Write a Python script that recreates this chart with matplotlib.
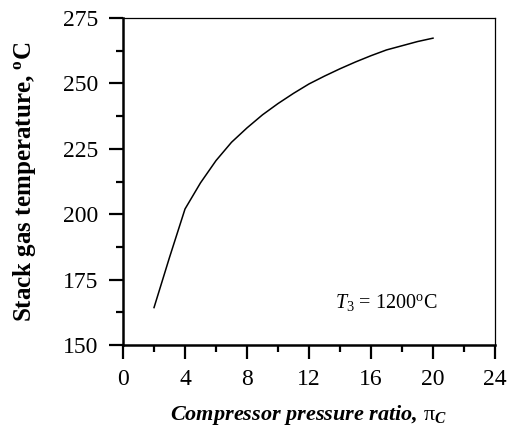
import matplotlib
matplotlib.use("Agg")
import matplotlib.pyplot as plt
from matplotlib.ticker import MultipleLocator

pressure_ratio = [2, 3, 4, 5, 6, 7, 8, 9, 10, 11, 12, 13, 14, 15, 16, 17, 18, 19, 20]
stack_temp = [164.3, 183.5, 202.0, 212.0, 220.5, 227.5, 233.0, 238.0, 242.3, 246.2,
              249.8, 252.8, 255.6, 258.2, 260.6, 262.8, 264.4, 266.0, 267.3]

plt.rcParams['font.family'] = ['Liberation Serif', 'DejaVu Serif']
plt.rcParams['mathtext.fontset'] = 'custom'
plt.rcParams['mathtext.rm'] = 'Liberation Serif'
plt.rcParams['mathtext.it'] = 'Liberation Serif:italic'
plt.rcParams['mathtext.bf'] = 'Liberation Serif:bold'
plt.rcParams['mathtext.bfit'] = 'Liberation Serif:bold:italic'

fig = plt.figure(figsize=(5.09, 4.30), dpi=100)
ax = fig.add_axes([0.2417, 0.1977, 0.7308, 0.7604])

ax.plot(pressure_ratio, stack_temp, color='black', lw=1.1)

ax.set_xlim(0, 24)
ax.set_ylim(150, 275)
ax.xaxis.set_major_locator(MultipleLocator(4))
ax.xaxis.set_minor_locator(MultipleLocator(2))
ax.yaxis.set_major_locator(MultipleLocator(25))
ax.yaxis.set_minor_locator(MultipleLocator(12.5))

ax.tick_params(axis='both', which='major', direction='out', length=10, width=1.6,
               labelsize=17, colors='black')
ax.tick_params(axis='x', which='major', pad=7.5)
ax.tick_params(axis='y', which='major', pad=8)
ax.tick_params(axis='both', which='minor', direction='out', length=5, width=1.6)

ax.spines['left'].set_linewidth(1.8)
ax.spines['bottom'].set_linewidth(1.8)
ax.spines['top'].set_linewidth(0.9)
ax.spines['right'].set_linewidth(0.9)

ax.set_ylabel(r"Stack gas temperature, $^{\mathbf{o}}$C", fontsize=18,
              fontweight='bold', labelpad=18)
ax.set_xlabel(r"$\mathbfit{Compressor\ pressure\ ratio,}\,\mathrm{\pi}_{\mathbfit{C}}$",
              fontsize=16, labelpad=9)

ax.text(0.57, 0.13, r"$T_{\mathit{3}}$ = 1200$^{\mathrm{o}}$C", transform=ax.transAxes,
        fontsize=14.5, ha='left', va='center')

fig.savefig("out.png", dpi=100)
